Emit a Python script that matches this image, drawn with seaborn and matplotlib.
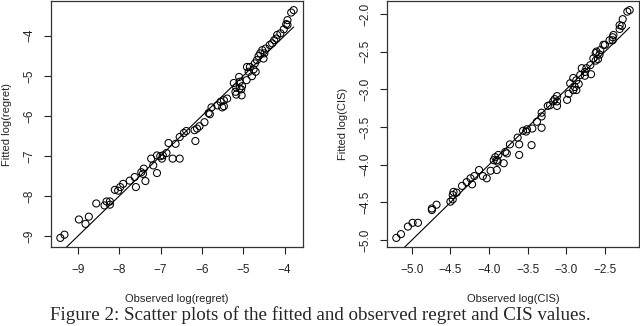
import numpy as np
import pandas as pd
import matplotlib
matplotlib.use("Agg")
import matplotlib.pyplot as plt
import seaborn as sns

sns.set_style("ticks")
plt.rcParams["font.family"] = ["Liberation Sans", "DejaVu Sans"]

# Observed vs fitted log(regret)
regret_observed = [
    -3.78, -3.84, -3.93, -3.96, -3.93, -4.02, -4.10, -4.18, -4.20, -4.25,
    -4.30, -4.36, -4.46, -4.54, -4.49, -4.59, -4.63, -4.51, -4.67, -4.72,
    -4.84, -4.91, -4.75, -4.87, -4.70, -4.79, -4.92, -5.10, -5.23, -5.09,
    -5.03, -5.17, -5.09, -5.19, -5.05, -5.17, -5.04, -5.39, -5.47, -5.55,
    -5.63, -5.47, -5.51, -5.77, -5.84, -5.81, -5.94, -6.06, -6.12, -6.18,
    -6.38, -6.44, -6.54, -6.64, -6.81, -6.16, -6.86, -6.95, -7.01, -7.09,
    -6.97, -6.71, -6.54, -7.23, -7.18, -7.09, -7.41, -7.43, -7.47, -7.37,
    -7.63, -7.75, -7.91, -7.98, -8.11, -8.03, -7.60, -8.56, -8.31, -8.23,
    -8.36, -8.23, -8.74, -8.98, -8.82, -9.33, -9.43,
]
regret_fitted = [
    -3.36, -3.42, -3.61, -3.71, -3.73, -3.84, -3.94, -3.98, -4.07, -4.11,
    -4.19, -4.23, -4.32, -4.36, -4.44, -4.44, -4.51, -4.57, -4.61, -4.69,
    -4.78, -4.78, -4.84, -4.90, -4.90, -5.01, -5.11, -5.03, -5.18, -5.15,
    -5.26, -5.29, -5.32, -5.40, -5.34, -5.47, -5.49, -5.57, -5.61, -5.65,
    -5.74, -5.76, -5.79, -5.79, -5.93, -5.96, -6.16, -6.26, -6.32, -6.36,
    -6.38, -6.43, -6.53, -6.70, -6.68, -6.63, -6.93, -6.99, -7.01, -6.99,
    -7.07, -7.07, -7.07, -7.07, -7.24, -7.43, -7.32, -7.45, -7.41, -7.63,
    -7.53, -7.62, -7.70, -7.78, -7.85, -7.87, -7.78, -8.19, -8.14, -8.14,
    -8.24, -8.22, -8.52, -8.59, -8.70, -8.97, -9.05,
]

# Observed vs fitted log(CIS)
cis_observed = [
    -2.18, -2.21, -2.27, -2.31, -2.28, -2.31, -2.39, -2.40, -2.40, -2.44,
    -2.50, -2.52, -2.56, -2.61, -2.62, -2.57, -2.65, -2.59, -2.62, -2.69,
    -2.74, -2.80, -2.76, -2.68, -2.82, -2.76, -2.91, -2.87, -2.95, -2.84,
    -2.89, -2.91, -2.87, -2.97, -2.99, -3.12, -3.15, -3.17, -3.12, -3.12,
    -3.21, -3.24, -3.32, -3.32, -3.38, -3.32, -3.44, -3.51, -3.56, -3.52,
    -3.63, -3.73, -3.61, -3.45, -3.79, -3.88, -3.92, -3.94, -3.90, -3.89,
    -3.77, -3.61, -3.81, -3.98, -3.90, -4.13, -4.08, -4.03, -4.19, -4.24,
    -4.29, -4.35, -4.22, -4.46, -4.47, -4.42, -4.50, -4.47, -4.68, -4.74,
    -4.74, -4.92, -4.99, -5.05, -5.14, -5.20,
]
cis_fitted = [
    -1.95, -1.97, -2.07, -2.15, -2.16, -2.20, -2.28, -2.31, -2.35, -2.35,
    -2.41, -2.41, -2.48, -2.50, -2.52, -2.54, -2.59, -2.60, -2.62, -2.68,
    -2.72, -2.72, -2.77, -2.80, -2.81, -2.82, -2.85, -2.88, -2.92, -2.93,
    -2.97, -3.01, -3.01, -3.06, -3.14, -3.09, -3.13, -3.16, -3.16, -3.22,
    -3.21, -3.22, -3.31, -3.36, -3.43, -3.51, -3.52, -3.53, -3.55, -3.56,
    -3.64, -3.73, -3.73, -3.74, -3.83, -3.87, -3.90, -3.94, -3.94, -3.96,
    -3.85, -3.87, -3.98, -4.08, -4.07, -4.07, -4.15, -4.18, -4.15, -4.18,
    -4.23, -4.28, -4.26, -4.36, -4.40, -4.37, -4.49, -4.46, -4.53, -4.58,
    -4.60, -4.77, -4.77, -4.82, -4.92, -4.97,
]

regret_ticks = [-9, -8, -7, -6, -5, -4]
cis_ticks = [-5.0, -4.5, -4.0, -3.5, -3.0, -2.5, -2.0]


def r_limits(values):
    # R's default 4% padding around the data range
    lo, hi = min(values), max(values)
    pad = 0.04 * (hi - lo)
    return lo - pad, hi + pad


def panel(ax, observed, fitted, xticks, yticks, fmt, xlabel, ylabel):
    df = pd.DataFrame({"observed": observed, "fitted": fitted})
    sns.scatterplot(data=df, x="observed", y="fitted", ax=ax, marker="o",
                    s=26, facecolor="none", edgecolor="black", linewidth=0.75)
    # y = x reference line over the observed range
    ref = pd.DataFrame({"v": [df["observed"].min(), df["observed"].max()]})
    sns.lineplot(x=ref["v"], y=ref["v"], ax=ax, color="black", linewidth=0.8)
    ax.set_xlim(*r_limits(observed))
    ax.set_ylim(*r_limits(fitted))
    ax.set_xticks(xticks)
    ax.set_yticks(yticks)
    ax.set_xticklabels([fmt.format(t).replace("-", "\u2212") for t in xticks])
    ax.set_yticklabels([fmt.format(t).replace("-", "\u2212") for t in yticks],
                       rotation=90, va="center")
    ax.tick_params(axis="both", direction="out", length=5, width=0.8,
                   labelsize=8.5, color="#222222", labelcolor="#222222")
    ax.tick_params(axis="x", pad=7)
    ax.tick_params(axis="y", pad=6)
    for sp in ax.spines.values():
        sp.set_visible(True)
        sp.set_linewidth(0.9)
        sp.set_color("#333333")
    ax.set_xlabel(xlabel, fontsize=8, color="#222222")
    ax.set_ylabel(ylabel, fontsize=8, color="#222222")
    ax.xaxis.set_label_coords(0.5, -0.19)
    ax.yaxis.set_label_coords(-0.155, 0.5)
    ax.grid(False)


fig = plt.figure(figsize=(6.4, 3.26), dpi=100)
ax1 = fig.add_axes([51 / 640, 79 / 326, 252 / 640, 246 / 326])
ax2 = fig.add_axes([387 / 640, 79 / 326, 252 / 640, 246 / 326])

panel(ax1, regret_observed, regret_fitted, regret_ticks, regret_ticks, "{:d}",
      "Observed log(regret)", "Fitted log(regret)")
panel(ax2, cis_observed, cis_fitted, cis_ticks[:-1], cis_ticks, "{:.1f}",
      "Observed log(CIS)", "Fitted log(CIS)")

fig.text(0.5, 0.035,
         "Figure 2: Scatter plots of the fitted and observed regret and CIS values.",
         ha="center", va="center", fontsize=13.7,
         family=["Liberation Serif", "DejaVu Serif"])

fig.savefig("out.png", dpi=100)
